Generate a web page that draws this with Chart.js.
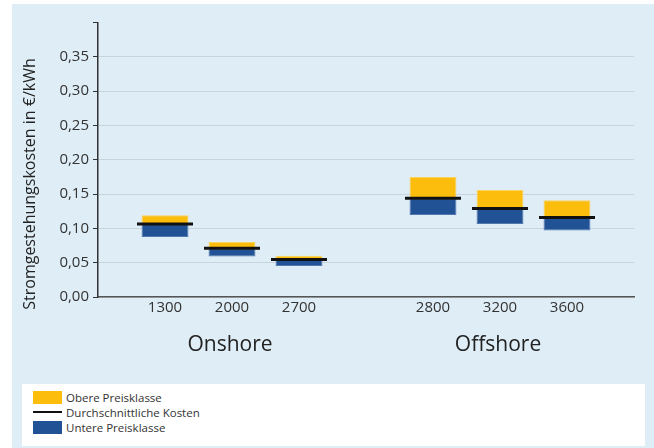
<!DOCTYPE html>
<html>
<head>
<meta charset="utf-8">
<script src="https://cdn.jsdelivr.net/npm/chart.js@4.4.1/dist/chart.umd.min.js"></script>
<style>
    html, body { margin: 0; padding: 0; background: #ffffff; }
    body { width: 654px; height: 448px; position: relative; overflow: hidden; font-family: "Open Sans", sans-serif; }
    #panel { position: absolute; left: 12px; top: 4px; width: 642px; height: 444px; background: #deedf6; }
    #chartBox { position: absolute; left: 0; top: 0; width: 654px; height: 380px; }
    #legend { position: absolute; left: 22px; top: 384px; width: 623px; height: 62px; background: #ffffff; }
    .item { position: absolute; left: 11px; height: 15px; font-size: 11.5px; color: #333; line-height: 15px; }
    .swatch { position: absolute; left: 0; width: 29px; }
    .item span { position: absolute; left: 33px; white-space: nowrap; }
</style>
</head>
<body>
<div id="panel"></div>
<div id="chartBox"><canvas id="costChart"></canvas></div>
<div id="legend">
    <div class="item" style="top:6px"><div class="swatch" style="top:1px;height:13px;background:#fdbd0d"></div><span>Obere Preisklasse</span></div>
    <div class="item" style="top:21px"><div class="swatch" style="top:6px;height:2px;background:#111"></div><span>Durchschnittliche Kosten</span></div>
    <div class="item" style="top:36px"><div class="swatch" style="top:1px;height:13px;background:#215295"></div><span>Untere Preisklasse</span></div>
</div>
<script>
// Categories (blank slots keep the gap between the groups)
const categories = ["", "1300", "2000", "2700", "", "2800", "3200", "3600", ""];
// Cost ranges in EUR/kWh
const upperCost = [null, 0.119, 0.080, 0.060, null, 0.175, 0.156, 0.141, null];
const meanCost = [null, 0.1065, 0.071, 0.0545, null, 0.144, 0.129, 0.116, null];
const lowerCost = [null, 0.0875, 0.059, 0.045, null, 0.1195, 0.1065, 0.097, null];
// Group labels under the axis
const groupNames = ["Onshore", "Offshore"];
const groupCenters = [2, 6];
const yTitle = "Stromgestehungskosten in €/kWh";

document.addEventListener("DOMContentLoaded", function () {
    let upperBars = categories.map((c, i) => upperCost[i] === null ? null : [meanCost[i], upperCost[i]]);
    let lowerBars = categories.map((c, i) => lowerCost[i] === null ? null : [lowerCost[i], meanCost[i]]);

    // Draws "Onshore" / "Offshore" under the tick labels and the y axis title
    let extraText = {
        id: "extraText",
        afterDraw(chart) {
            let ctx = chart.ctx;
            let xScale = chart.scales.x;
            ctx.save();
            ctx.font = "21px 'Open Sans'";
            ctx.fillStyle = "#222";
            ctx.textAlign = "center";
            ctx.textBaseline = "middle";
            groupNames.forEach((name, i) => {
                ctx.fillText(name, xScale.getPixelForValue(groupCenters[i]) - 2, 345);
            });
            ctx.translate(30, 184);
            ctx.rotate(-Math.PI / 2);
            ctx.font = "16px 'Open Sans'";
            ctx.fillText(yTitle, 0, 0);
            ctx.restore();
        }
    };

    let ctx = document.getElementById("costChart").getContext("2d");
    new Chart(ctx, {
        type: "bar",
        data: {
            labels: categories,
            datasets: [{
                type: "line",
                label: "Durchschnittliche Kosten",
                data: meanCost,
                showLine: false,
                pointStyle: "line",
                pointRadius: 28,
                pointHoverRadius: 28,
                borderColor: "#111111",
                borderWidth: 3,
                order: 0
            }, {
                label: "Obere Preisklasse",
                data: upperBars,
                backgroundColor: "#fdbd0d",
                borderColor: "#fcd35e",
                borderWidth: 1,
                borderSkipped: false,
                grouped: false,
                order: 1
            }, {
                label: "Untere Preisklasse",
                data: lowerBars,
                backgroundColor: "#215295",
                borderColor: "#5378ad",
                borderWidth: 1,
                borderSkipped: false,
                grouped: false,
                order: 1
            }]
        },
        options: {
            responsive: true,
            maintainAspectRatio: false,
            animation: false,
            categoryPercentage: 1,
            barPercentage: 0.7,
            layout: { autoPadding: false, padding: { left: 12, right: 20, top: 22.5, bottom: 0 } },
            scales: {
                x: {
                    offset: false,
                    grid: { display: false, drawTicks: false },
                    border: { color: "#555", width: 1.5 },
                    ticks: { color: "#333", font: { family: "Open Sans", size: 15 }, padding: 2, maxRotation: 0, autoSkip: false },
                    afterFit(scale) { scale.height = 83; }
                },
                y: {
                    min: 0,
                    max: 0.4,
                    border: { color: "#333", width: 1.5 },
                    grid: {
                        color: ctx => ctx.index === 16 ? "rgba(0,0,0,0)" : (ctx.index % 2 === 0 ? "#c7d4dc" : "#d2e2ec"),
                        tickColor: "#333",
                        tickLength: 5,
                        lineWidth: 1
                    },
                    ticks: {
                        stepSize: 0.025,
                        color: "#333",
                        font: { family: "Open Sans", size: 15 },
                        padding: 4,
                        callback: function (value, index) {
                            if (index % 2 !== 0 || index === 16) return "";
                            return value.toFixed(2).replace(".", ",");
                        }
                    },
                    afterFit(scale) { scale.width = 86; }
                }
            },
            plugins: {
                legend: { display: false },
                tooltip: { enabled: false }
            }
        },
        plugins: [extraText]
    });
});
</script>
</body>
</html>
